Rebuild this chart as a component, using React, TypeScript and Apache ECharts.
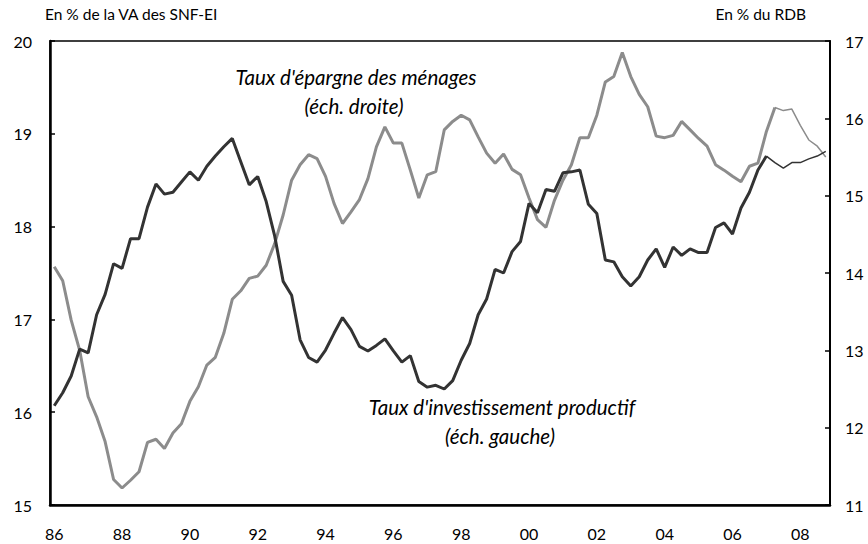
import React, { useEffect, useRef } from "react";
import * as echarts from "echarts";

const FONT = "Lato, 'Open Sans', sans-serif";

// Quarterly categories 1986T1 .. 2008T4
const years: number[] = [];
for (let y = 1986; y <= 2008; y++) years.push(y);
const categories: string[] = [];
years.forEach((y) => {
  for (let q = 1; q <= 4; q++) categories.push(`${y}T${q}`);
});

// Taux d'investissement productif (en % de la VA des SNF-EI, échelle gauche)
const investissement = [
  16.07, 16.21, 16.39, 16.68, 16.64, 17.05, 17.27, 17.6, 17.55, 17.87,
  17.87, 18.21, 18.46, 18.35, 18.37, 18.48, 18.59, 18.5, 18.65, 18.76,
  18.86, 18.95, 18.7, 18.45, 18.54, 18.27, 17.9, 17.41, 17.26, 16.78,
  16.59, 16.54, 16.67, 16.85, 17.02, 16.89, 16.71, 16.66, 16.72, 16.79,
  16.66, 16.54, 16.61, 16.33, 16.27, 16.29, 16.25, 16.34, 16.56, 16.74,
  17.05, 17.22, 17.54, 17.5, 17.73, 17.84, 18.25, 18.15, 18.4, 18.38,
  18.58, 18.59, 18.61, 18.24, 18.14, 17.64, 17.62, 17.46, 17.36, 17.46,
  17.64, 17.76, 17.56, 17.78, 17.69, 17.76, 17.72, 17.72, 17.99, 18.04,
  17.92, 18.2, 18.37, 18.61, 18.76, 18.69, 18.63, 18.69, 18.69, 18.73,
  18.76, 18.81,
];

// Taux d'épargne des ménages (en % du RDB, échelle droite)
const epargne = [
  14.08, 13.9, 13.39, 13.0, 12.4, 12.14, 11.82, 11.33, 11.22, 11.32,
  11.43, 11.81, 11.85, 11.73, 11.93, 12.05, 12.34, 12.53, 12.81, 12.91,
  13.22, 13.66, 13.77, 13.93, 13.96, 14.1, 14.38, 14.75, 15.2, 15.4,
  15.53, 15.48, 15.25, 14.9, 14.64, 14.79, 14.95, 15.22, 15.63, 15.89,
  15.68, 15.68, 15.33, 14.97, 15.27, 15.31, 15.85, 15.96, 16.04, 15.98,
  15.76, 15.55, 15.42, 15.54, 15.34, 15.27, 14.97, 14.69, 14.59, 14.94,
  15.2, 15.4, 15.75, 15.75, 16.04, 16.47, 16.54, 16.85, 16.54, 16.31,
  16.15, 15.77, 15.75, 15.78, 15.96, 15.85, 15.74, 15.64, 15.4, 15.33,
  15.25, 15.18, 15.38, 15.42, 15.83, 16.14, 16.1, 16.12, 15.91, 15.72,
  15.64, 15.5,
];

// index from which the series are drawn with a thin (provisional) line
const investThinFrom = 84;
const epargneThinFrom = 85;

const leftTicks = { min: 15, max: 20, interval: 1 };
const rightTicks = { min: 11, max: 17, interval: 1 };

export default function App() {
  const ref = useRef<HTMLDivElement>(null);
  useEffect(() => {
    if (!ref.current) return;
    const chart = echarts.init(ref.current, null, { renderer: "svg" });
    const split = (arr: number[], from: number, thick: boolean) =>
      arr.map((v, i) => (thick ? (i <= from ? v : null) : i >= from ? v : null));
    const DARK = "#333333";
    const GREY = "#8c8c8c";
    const note = (text: string, x: number, y: number) => ({
      type: "text",
      x,
      y,
      style: {
        text,
        fontSize: 20.5,
        fontStyle: "italic",
        fill: "#000",
        fontFamily: FONT,
        align: "center",
        verticalAlign: "middle",
      },
    });
    chart.setOption({
      animation: false,
      backgroundColor: "#ffffff",
      textStyle: { fontFamily: FONT },
      grid: {
        left: 50,
        right: 38,
        top: 41,
        bottom: 39,
        show: true,
        borderColor: "#000",
        borderWidth: 1.5,
        backgroundColor: "transparent",
      },
      xAxis: {
        type: "category",
        data: categories,
        boundaryGap: true,
        axisLine: { lineStyle: { color: "#000", width: 2.5 } },
        axisTick: {
          inside: true,
          length: 5,
          interval: (i: number) => i % 4 === 0,
          lineStyle: { color: "#000", width: 1.5 },
        },
        axisLabel: {
          interval: (i: number) => i % 8 === 0,
          formatter: (v: string) => v.slice(2, 4),
          color: "#000",
          fontSize: 16,
          fontFamily: FONT,
          margin: 20,
        },
        splitLine: { show: false },
      },
      yAxis: [
        {
          type: "value",
          position: "left",
          ...leftTicks,
          axisLine: { show: true, lineStyle: { color: "#000", width: 2.5 } },
          axisTick: { show: true, inside: true, length: 5, lineStyle: { color: "#000", width: 1.5 } },
          axisLabel: { color: "#000", fontSize: 16, fontFamily: FONT, margin: 18 },
          splitLine: { show: false },
        },
        {
          type: "value",
          position: "right",
          ...rightTicks,
          axisLine: { show: true, lineStyle: { color: "#000", width: 2 } },
          axisTick: { show: true, inside: true, length: 5, lineStyle: { color: "#000", width: 1.5 } },
          axisLabel: { color: "#000", fontSize: 16, fontFamily: FONT, margin: 15 },
          splitLine: { show: false },
        },
      ],
      series: [
        {
          name: "Taux d'épargne des ménages",
          type: "line",
          yAxisIndex: 1,
          data: split(epargne, epargneThinFrom, true),
          symbol: "none",
          lineStyle: { color: GREY, width: 3 },
          z: 2,
        },
        {
          name: "Taux d'épargne des ménages (prov.)",
          type: "line",
          yAxisIndex: 1,
          data: split(epargne, epargneThinFrom, false),
          symbol: "none",
          lineStyle: { color: GREY, width: 1.5 },
          z: 2,
        },
        {
          name: "Taux d'investissement productif",
          type: "line",
          yAxisIndex: 0,
          data: split(investissement, investThinFrom, true),
          symbol: "none",
          lineStyle: { color: DARK, width: 3 },
          z: 3,
        },
        {
          name: "Taux d'investissement productif (prov.)",
          type: "line",
          yAxisIndex: 0,
          data: split(investissement, investThinFrom, false),
          symbol: "none",
          lineStyle: { color: DARK, width: 1.5 },
          z: 3,
        },
      ],
      graphic: [
        {
          type: "text",
          left: 45,
          top: 6,
          style: { text: "En % de la VA des SNF-EI", fontSize: 15.5, fill: "#000", fontFamily: FONT },
        },
        {
          type: "text",
          right: 62,
          top: 6,
          style: { text: "En % du RDB", fontSize: 15.5, fill: "#000", fontFamily: FONT },
        },
        note("Taux d'épargne des ménages", 356, 77),
        note("(éch. droite)", 354, 106),
        note("Taux d'investissement productif", 502, 407),
        note("(éch. gauche)", 500, 436),
      ],
    });
    return () => chart.dispose();
  }, []);
  return (
    <div
      ref={ref}
      style={{ position: "absolute", left: 0, top: 0, width: 868, height: 544 }}
    />
  );
}
